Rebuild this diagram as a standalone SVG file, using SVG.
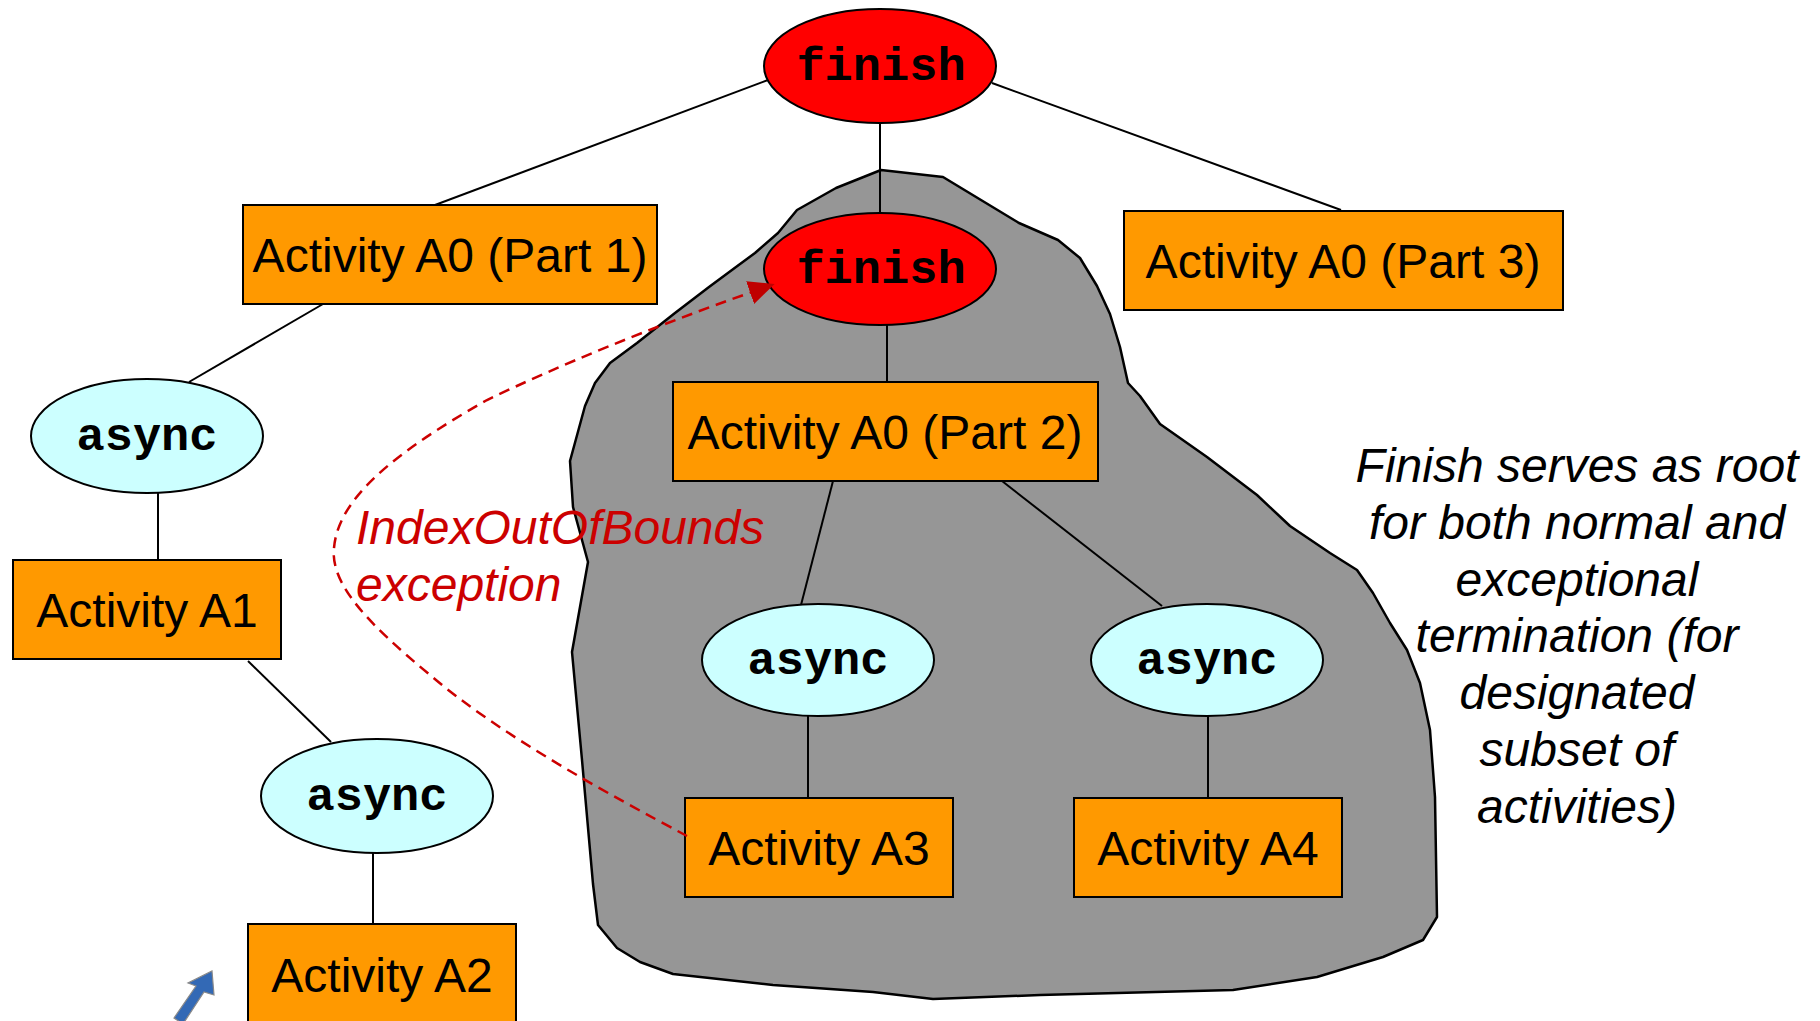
<svg xmlns="http://www.w3.org/2000/svg" width="1820" height="1021" viewBox="0 0 1820 1021">
  <style>
    .box { fill: #ff9900; stroke: #000; stroke-width: 2; }
    .fin { fill: #ff0000; stroke: #000; stroke-width: 2; }
    .asy { fill: #ccffff; stroke: #000; stroke-width: 2; }
    .lbl { font-family: "Liberation Sans", Arial, sans-serif; font-size: 48px; fill: #000; text-anchor: middle; }
    .kw { font-family: "Liberation Mono", "Courier New", monospace; font-weight: bold; font-size: 47px; fill: #000; text-anchor: middle; }
    .note { font-family: "Liberation Sans", Arial, sans-serif; font-style: italic; font-size: 48px; fill: #000; text-anchor: middle; }
    .exc { font-family: "Liberation Sans", Arial, sans-serif; font-style: italic; font-size: 48px; fill: #cc0000; }
    .edge { stroke: #000; stroke-width: 2; fill: none; }
  </style>
  <defs>
    <marker id="redHead" markerUnits="userSpaceOnUse" markerWidth="30" markerHeight="30" viewBox="0 0 30 30" refX="2" refY="15" orient="auto">
      <path d="M0,3 L26,15 L0,27 z" fill="#c00000"/>
    </marker>
  </defs>

  <rect width="1820" height="1021" fill="#fff"/>

  <!-- finish scope region -->
  <polygon id="scope" fill="#969696" stroke="#000" stroke-width="2.5" stroke-linejoin="round"
    points="881,170 943,177 981,200 1019,223 1058,240 1080,258 1097,286 1110,314 1120,347 1128,383 1140,396 1160,424 1207,457 1257,495 1290,526 1330,553 1357,570 1373,593 1390,623 1407,650 1420,683 1430,730 1435,797 1437,917 1423,940 1383,957 1317,977 1233,990 1040,995 933,999 873,992 773,985 673,974 640,962 617,948 598,925 593,884 582,760 572,652 588,562 573,507 570,461 585,406 595,383 610,363 637,343 675,313 709,287 736,267 755,253 778,233 797,210 836,188"/>

  <!-- tree edges -->
  <g id="connectors" class="edge">
    <line x1="768" y1="80" x2="435" y2="205"/>
    <line x1="992" y1="83" x2="1341" y2="210"/>
    <line x1="880" y1="123" x2="880" y2="213"/>
    <line x1="887" y1="325" x2="887" y2="382"/>
    <line x1="323" y1="304" x2="189" y2="382"/>
    <line x1="158" y1="493" x2="158" y2="560"/>
    <line x1="248" y1="661" x2="331" y2="742"/>
    <line x1="373" y1="853" x2="373" y2="924"/>
    <line x1="833" y1="481" x2="801" y2="605"/>
    <line x1="1002" y1="481" x2="1162" y2="606"/>
    <line x1="808" y1="716" x2="808" y2="798"/>
    <line x1="1208" y1="716" x2="1208" y2="798"/>
  </g>

  <g id="finish-root">
    <ellipse class="fin" cx="880" cy="66" rx="116" ry="57"/>
    <text class="kw" x="881" y="80">finish</text>
  </g>
  <g id="finish-inner">
    <ellipse class="fin" cx="880" cy="269" rx="116" ry="56"/>
    <text class="kw" x="881" y="283">finish</text>
  </g>
  <g id="a0-part1">
    <rect class="box" x="243" y="205" width="414" height="99"/>
    <text class="lbl" x="450" y="272">Activity A0 (Part 1)</text>
  </g>
  <g id="a0-part3">
    <rect class="box" x="1124" y="211" width="439" height="99"/>
    <text class="lbl" x="1343" y="278">Activity A0 (Part 3)</text>
  </g>
  <g id="a0-part2">
    <rect class="box" x="673" y="382" width="425" height="99"/>
    <text class="lbl" x="885" y="449">Activity A0 (Part 2)</text>
  </g>
  <g id="async-1">
    <ellipse class="asy" cx="147" cy="436" rx="116" ry="57"/>
    <text class="kw" x="147" y="450">async</text>
  </g>
  <g id="a1">
    <rect class="box" x="13" y="560" width="268" height="99"/>
    <text class="lbl" x="147" y="627">Activity A1</text>
  </g>
  <g id="async-2">
    <ellipse class="asy" cx="377" cy="796" rx="116" ry="57"/>
    <text class="kw" x="377" y="810">async</text>
  </g>
  <g id="a2">
    <rect class="box" x="248" y="924" width="268" height="101"/>
    <text class="lbl" x="382" y="992">Activity A2</text>
  </g>
  <g id="async-3">
    <ellipse class="asy" cx="818" cy="660" rx="116" ry="56"/>
    <text class="kw" x="818" y="674">async</text>
  </g>
  <g id="async-4">
    <ellipse class="asy" cx="1207" cy="660" rx="116" ry="56"/>
    <text class="kw" x="1207" y="674">async</text>
  </g>
  <g id="a3">
    <rect class="box" x="685" y="798" width="268" height="99"/>
    <text class="lbl" x="819" y="865">Activity A3</text>
  </g>
  <g id="a4">
    <rect class="box" x="1074" y="798" width="268" height="99"/>
    <text class="lbl" x="1208" y="865">Activity A4</text>
  </g>

  <!-- exception propagated from A3 up to the enclosing finish -->
  <g id="exception-flow">
    <path d="M687,836 C610,795 500,735 430,675 C370,625 330,585 334,548 C338,500 390,455 487,400 C560,365 650,328 752,292"
      fill="none" stroke="#cc0000" stroke-width="2.5" stroke-dasharray="11,7" marker-end="url(#redHead)"/>
    <text class="exc" x="356" y="544">IndexOutOfBounds</text>
    <text class="exc" x="356" y="601">exception</text>
  </g>

  <g id="note">
    <text class="note" x="1577" y="482">Finish serves as root</text>
    <text class="note" x="1577" y="539">for both normal and</text>
    <text class="note" x="1577" y="596">exceptional</text>
    <text class="note" x="1577" y="652">termination (for</text>
    <text class="note" x="1577" y="709">designated</text>
    <text class="note" x="1577" y="766">subset of</text>
    <text class="note" x="1577" y="823">activities)</text>
  </g>

  <!-- logo arrow, bottom left -->
  <polygon id="logo-arrow" fill="#3369b5" stroke="#8a8a8a" stroke-width="1.2"
    points="212,971 214,995 204,992 183,1024 174,1018 196,986 188,983"/>
</svg>
